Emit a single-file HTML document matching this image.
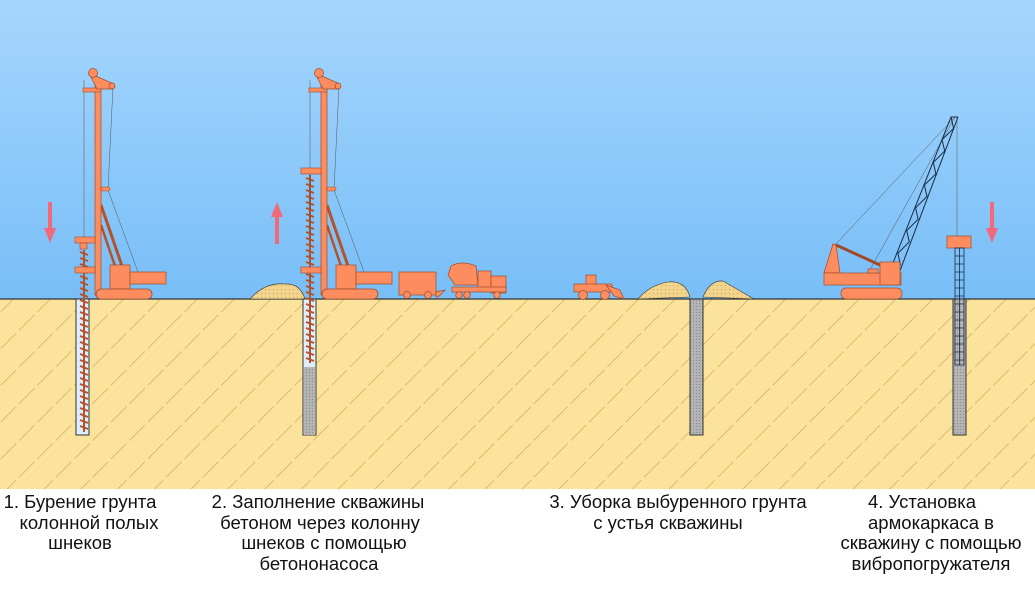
<!DOCTYPE html>
<html><head><meta charset="utf-8"><style>
html,body{margin:0;padding:0;background:#fff}
svg{display:block}
text{font-family:"Liberation Sans",Arial,sans-serif;font-size:18.5px;fill:#111}
</style></head><body>
<svg width="1035" height="600" viewBox="0 0 1035 600" xmlns="http://www.w3.org/2000/svg">
<defs>
<linearGradient id="sky" x1="0" y1="0" x2="0" y2="1">
<stop offset="0" stop-color="#a6d6fd"/><stop offset="1" stop-color="#78bef7"/></linearGradient>
<pattern id="hatch" width="26" height="26" patternUnits="userSpaceOnUse" patternTransform="rotate(-45)">
<rect width="26" height="26" fill="#fce39c"/>
<line x1="0" y1="13" x2="10" y2="13" stroke="#d9bb6e" stroke-width="1"/>
<line x1="14" y1="13" x2="26" y2="13" stroke="#d9bb6e" stroke-width="1"/>
</pattern>
<pattern id="grey" width="3" height="3" patternUnits="userSpaceOnUse"><rect width="3" height="3" fill="#b4b4b4"/><rect width="1" height="1" fill="#8a8a8a"/></pattern>
<pattern id="sand" width="4" height="4" patternUnits="userSpaceOnUse"><rect width="4" height="4" fill="#f3d48c"/><rect x="1" y="1" width="1" height="1" fill="#c9a55a"/></pattern>
<g id="rig">
 <line x1="84" y1="80" x2="84" y2="237" stroke="#555" stroke-width="0.5"/>
 <line x1="113" y1="86" x2="108" y2="190" stroke="#555" stroke-width="0.5"/>
 <line x1="108" y1="190" x2="138" y2="272" stroke="#555" stroke-width="0.5"/>
 <line x1="101" y1="205" x2="122" y2="266" stroke="#b4532b" stroke-width="3"/>
 <line x1="101" y1="225" x2="115" y2="266" stroke="#b4532b" stroke-width="2.5"/>
 <rect x="95" y="85" width="6" height="210" fill="#fd8d5f" stroke="#a04a2a" stroke-width="0.7"/>
 <rect x="83" y="88" width="18" height="4" fill="#fd8d5f" stroke="#a04a2a" stroke-width="0.6"/>
 <path d="M89 73 L114 84 L112 89 L97 89 Z" fill="#fd8d5f" stroke="#a04a2a" stroke-width="0.7"/>
 <circle cx="93" cy="73" r="4.5" fill="#fd8d5f" stroke="#a04a2a" stroke-width="0.7"/>
 <circle cx="112" cy="86" r="3" fill="#fd8d5f" stroke="#a04a2a" stroke-width="0.7"/>
 <rect x="101" y="187" width="9" height="4" rx="2" fill="#fd8d5f" stroke="#a04a2a" stroke-width="0.6"/>
 <rect x="110" y="265" width="20" height="24" fill="#fd8d5f" stroke="#a04a2a" stroke-width="0.7"/>
 <rect x="130" y="272" width="36" height="12" fill="#fd8d5f" stroke="#a04a2a" stroke-width="0.7"/>
 <rect x="96" y="289" width="56" height="10" rx="5" fill="#fd8d5f" stroke="#a04a2a" stroke-width="0.8"/>
</g>
</defs>
<rect width="1035" height="300" fill="url(#sky)"/>
<rect y="299" width="1035" height="190" fill="url(#hatch)"/>
<line x1="0" y1="299" x2="1035" y2="299" stroke="#333" stroke-width="1.2"/>
<path d="M250 299 Q265 282 285 284 Q300 283 305 299 Z" fill="url(#sand)" stroke="#333" stroke-width="0.6"/>
<path d="M638 299 Q650 285 668 282 Q685 280 690 297 Z" fill="url(#sand)" stroke="#333" stroke-width="0.6"/>
<path d="M703 297 Q710 280 723 281 Q735 288 754 299 Z" fill="url(#sand)" stroke="#333" stroke-width="0.6"/>
<rect x="76" y="299" width="13" height="136" fill="#dfeefc" stroke="#333" stroke-width="1"/>
<rect x="303" y="299" width="13" height="136" fill="#dfeefc" stroke="#333" stroke-width="1"/>
<rect x="304" y="367" width="11" height="68" fill="url(#grey)"/>
<rect x="690" y="299" width="13" height="136" fill="url(#grey)" stroke="#333" stroke-width="1"/>
<rect x="953" y="299" width="13" height="136" fill="url(#grey)" stroke="#333" stroke-width="1"/>
<g stroke="#b4532b" stroke-width="2" fill="none">
<path d="M84 250 V432"/>
<path d="M80 252 l8 3 M80 258 l8 3 M80 264 l8 3 M80 270 l8 3 M80 276 l8 3 M80 282 l8 3 M80 288 l8 3 M80 294 l8 3 M80 300 l8 3 M80 306 l8 3 M80 312 l8 3 M80 318 l8 3 M80 324 l8 3 M80 330 l8 3 M80 336 l8 3 M80 342 l8 3 M80 348 l8 3 M80 354 l8 3 M80 360 l8 3 M80 366 l8 3 M80 372 l8 3 M80 378 l8 3 M80 384 l8 3 M80 390 l8 3 M80 396 l8 3 M80 402 l8 3 M80 408 l8 3 M80 414 l8 3 M80 420 l8 3 M80 426 l8 3"/>
<path d="M310 175 V363"/>
<path d="M306 178 l8 3 M306 184 l8 3 M306 190 l8 3 M306 196 l8 3 M306 202 l8 3 M306 208 l8 3 M306 214 l8 3 M306 220 l8 3 M306 226 l8 3 M306 232 l8 3 M306 238 l8 3 M306 244 l8 3 M306 250 l8 3 M306 256 l8 3 M306 262 l8 3 M306 268 l8 3 M306 274 l8 3 M306 280 l8 3 M306 286 l8 3 M306 292 l8 3 M306 298 l8 3 M306 304 l8 3 M306 310 l8 3 M306 316 l8 3 M306 322 l8 3 M306 328 l8 3 M306 334 l8 3 M306 340 l8 3 M306 346 l8 3 M306 352 l8 3 M306 358 l8 3"/>
</g>
<use href="#rig"/>
<rect x="75" y="237" width="20" height="6" fill="#fd8d5f" stroke="#a04a2a" stroke-width="0.6"/>
<rect x="80" y="243" width="7" height="6" fill="#fd8d5f" stroke="#a04a2a" stroke-width="0.6"/>
<rect x="75" y="267" width="20" height="6" fill="#fd8d5f" stroke="#a04a2a" stroke-width="0.6"/>
<use href="#rig" x="226"/>
<rect x="301" y="168" width="20" height="6" fill="#fd8d5f" stroke="#a04a2a" stroke-width="0.6"/>
<rect x="301" y="267" width="20" height="6" fill="#fd8d5f" stroke="#a04a2a" stroke-width="0.6"/>
<g fill="#f26a7a">
<rect x="48" y="202" width="4" height="28"/><path d="M44 228 L56 228 L50 243 Z"/>
<rect x="275" y="215" width="4" height="29"/><path d="M271 217 L283 217 L277 202 Z"/>
<rect x="990" y="202" width="4" height="28"/><path d="M986 228 L998 228 L992 243 Z"/>
</g>
<g fill="#fd8d5f" stroke="#a04a2a" stroke-width="0.7">
<rect x="399" y="272" width="37" height="23"/>
<path d="M436 292 L445 290 L438 297 L436 297 Z"/>
<circle cx="407" cy="295" r="3.5"/><circle cx="428" cy="295" r="3.5"/>
<path d="M448 275 L451 266 Q462 260 476 266 L478 285 L455 285 Z"/>
<rect x="478" y="271" width="13" height="17"/>
<rect x="491" y="276" width="15" height="17"/>
<rect x="452" y="287" width="54" height="5"/>
<circle cx="459" cy="295" r="3.3"/><circle cx="467" cy="295" r="3.3"/><circle cx="497" cy="295" r="3.3"/>
</g>
<g fill="#fd8d5f" stroke="#a04a2a" stroke-width="0.7">
<rect x="586" y="275" width="10" height="12"/>
<rect x="574" y="284" width="38" height="8"/>
<path d="M606 285 L620 290 L624 299 L614 296 Z"/>
<circle cx="583" cy="295" r="4.5"/><circle cx="605" cy="295" r="4.5"/>
</g>
<g stroke="#555" stroke-width="0.5"><line x1="835" y1="245" x2="955" y2="117"/><line x1="867" y1="275" x2="955" y2="117"/><line x1="957" y1="117" x2="957" y2="236"/></g>
<g stroke="#1b2b44" stroke-width="1" fill="none">
<line x1="887" y1="278" x2="951" y2="117"/>
<line x1="898" y1="276" x2="958" y2="117"/>
<polyline points="889,276 900.4,264.6 897.9,253.3 909.3,241.9 906.7,230.6 918.1,219.2 915.6,207.8 927,196.5 924.4,185.1 935.9,173.8 933.3,162.4 944.7,151 942.1,139.7 953.6,128.3 951,117 958,117"/>
</g>
<g fill="#fd8d5f" stroke="#a04a2a" stroke-width="0.7">
<path d="M824 273 L833 244 L836 245 L840 273 Z"/>
<line x1="836" y1="245" x2="880" y2="265" stroke="#a04a2a" stroke-width="3"/>
<rect x="824" y="273" width="77" height="12"/>
<rect x="880" y="262" width="20" height="23"/>
<rect x="868" y="269" width="10" height="4"/>
<rect x="841" y="288" width="61" height="11" rx="5"/>
<rect x="947" y="236" width="24" height="12"/>
</g>
<g stroke="#1b2b44" stroke-width="0.8" fill="none">
<rect x="955" y="248" width="9" height="117"/>
<line x1="959.5" y1="248" x2="959.5" y2="365"/>
<path d="M955 256 H964 M955 264 H964 M955 272 H964 M955 280 H964 M955 288 H964 M955 296 H964 M955 304 H964 M955 312 H964 M955 320 H964 M955 328 H964 M955 336 H964 M955 344 H964 M955 352 H964 M955 360 H964"/>
</g>
<text x="80" y="508" text-anchor="middle">1. Бурение грунта</text>
<text x="89" y="529" text-anchor="middle">колонной полых</text>
<text x="80" y="549" text-anchor="middle">шнеков</text>
<text x="318" y="508" text-anchor="middle">2. Заполнение скважины</text>
<text x="320" y="529" text-anchor="middle">бетоном через колонну</text>
<text x="324" y="549" text-anchor="middle">шнеков с помощью</text>
<text x="319" y="570" text-anchor="middle">бетононасоса</text>
<text x="678" y="508" text-anchor="middle">3. Уборка выбуренного грунта</text>
<text x="668" y="529" text-anchor="middle">с устья скважины</text>
<text x="922" y="508" text-anchor="middle">4. Установка</text>
<text x="931" y="529" text-anchor="middle">армокаркаса в</text>
<text x="931" y="549" text-anchor="middle">скважину с помощью</text>
<text x="931" y="570" text-anchor="middle">вибропогружателя</text>
</svg>
</body></html>
